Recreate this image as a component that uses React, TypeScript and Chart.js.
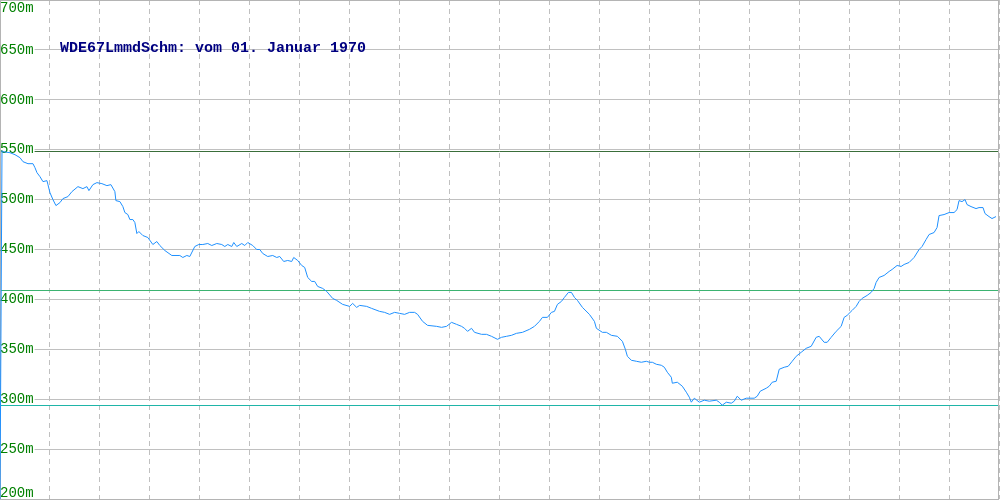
import React, { useEffect, useRef } from "react";
import { Chart, registerables } from "chart.js";

Chart.register(...registerables);

// distance along track (x) and elevation in metres (y)
const distance = [
  0, 2, 3, 10, 15, 20, 23, 28, 33, 35, 37, 40, 43, 47, 48, 50, 53, 56, 60, 63,
  68, 72, 78, 83, 87, 89, 93, 97, 102, 107, 111, 115, 116, 120, 123, 125, 128, 130, 133, 135,
  137, 139, 143, 148, 153, 157, 160, 165, 172, 180, 183, 187, 190, 195, 199, 203, 208, 212, 217, 222,
  225, 228, 232, 234, 237, 242, 245, 248, 253, 257, 260, 263, 268, 273, 277, 280, 284, 288, 292, 294,
  298, 302, 305, 308, 312, 315, 318, 323, 327, 333, 337, 343, 350, 353, 357, 360, 367, 372, 380, 385,
  390, 395, 400, 405, 410, 415, 418, 423, 428, 437, 442, 447, 452, 457, 462, 465, 468, 472, 475, 482,
  487, 492, 498, 502, 507, 512, 517, 523, 530, 535, 540, 543, 548, 552, 555, 558, 562, 565, 569, 572,
  575, 578, 583, 590, 595, 597, 603, 607, 612, 618, 623, 626, 628, 632, 637, 642, 647, 650, 653, 657,
  662, 665, 668, 672, 673, 678, 683, 687, 690, 692, 695, 700, 705, 710, 717, 720, 723, 727, 732, 735,
  738, 742, 747, 755, 758, 761, 767, 770, 773, 777, 780, 785, 789, 793, 797, 802, 807, 812, 817, 820,
  825, 828, 832, 837, 842, 845, 848, 853, 857, 860, 863, 868, 872, 875, 877, 880, 885, 890, 893, 898,
  902, 905, 910, 915, 920, 923, 927, 930, 935, 938, 940, 945, 950, 955, 958, 960, 963, 966, 968, 972,
  977, 980, 984, 986, 990, 993, 997,
];

const elevation = [
  200, 549, 548, 547, 545, 542, 538, 536, 536, 532, 527, 523, 518, 519, 515, 507, 500, 494, 497, 501,
  503, 508, 513, 511, 513, 509, 515, 517, 516, 514, 515, 508, 499, 498, 493, 487, 485, 480, 480, 477,
  466, 468, 464, 462, 455, 458, 454, 449, 444, 444, 442, 444, 443, 453, 455, 455, 456, 454, 456, 455,
  453, 455, 453, 457, 453, 456, 454, 457, 454, 450, 450, 446, 443, 444, 442, 443, 438, 439, 438, 442,
  439, 434, 432, 422, 418, 418, 413, 411, 408, 401, 399, 395, 393, 396, 392, 394, 393, 391, 388, 387,
  385, 387, 386, 385, 387, 387, 385, 378, 374, 373, 372, 373, 377, 375, 373, 371, 368, 371, 367, 365,
  365, 363, 360, 362, 363, 364, 366, 367, 370, 373, 378, 382, 382, 387, 388, 395, 398, 402, 407, 407,
  402, 399, 392, 385, 378, 371, 367, 367, 364, 363, 358, 350, 343, 339, 338, 337, 338, 337, 337, 335,
  334, 332, 327, 322, 316, 317, 313, 307, 302, 297, 301, 297, 299, 298, 299, 297, 294, 297, 296, 298,
  303, 299, 301, 301, 303, 308, 311, 313, 317, 318, 330, 332, 333, 338, 343, 347, 351, 353, 362, 363,
  357, 357, 362, 368, 373, 382, 384, 389, 393, 398, 401, 404, 407, 411, 417, 422, 424, 428, 430, 434,
  433, 435, 437, 442, 450, 453, 460, 465, 467, 472, 484, 485, 487, 487, 490, 499, 498, 500, 495, 493,
  491, 492, 492, 486, 483, 481, 483,
];

const yTickValues = [200, 250, 300, 350, 400, 450, 500, 550, 600, 650, 700];
const yTickLabels = ["200m", "250m", "300m", "350m", "400m", "450m", "500m", "550m", "600m", "650m", "700m"];

const referenceLevels = [549, 409.5, 294];
const referenceColors = ["#3a6e3a", "#3cb371", "#1fb5a8"];

const titleText = "WDE67LmmdSchm: vom 01. Januar 1970";

const overlayPlugin = {
  id: "overlay",
  beforeDatasetsDraw(chart: any) {
    const { ctx, chartArea, scales } = chart;
    const y = scales.y;
    ctx.save();
    ctx.setLineDash([]);
    // reference lines
    referenceLevels.forEach((lvl, i) => {
      const py = Math.round(y.getPixelForValue(lvl)) + 0.5;
      ctx.strokeStyle = referenceColors[i];
      ctx.lineWidth = 1;
      ctx.beginPath();
      ctx.moveTo(chartArea.left, py);
      ctx.lineTo(chartArea.right, py);
      ctx.stroke();
    });
    // frame
    ctx.strokeStyle = "#b4b4b4";
    ctx.lineWidth = 1;
    ctx.strokeRect(chartArea.left + 0.5, chartArea.top + 0.5, chartArea.right - chartArea.left - 1, chartArea.bottom - chartArea.top);
    // y labels
    ctx.font = "14px 'Liberation Mono', 'DejaVu Sans Mono', monospace";
    ctx.textBaseline = "middle";
    ctx.textAlign = "left";
    yTickValues.forEach((v, i) => {
      let py = y.getPixelForValue(v);
      py = Math.min(Math.max(py, chartArea.top + 8), chartArea.bottom - 6);
      const w = ctx.measureText(yTickLabels[i]).width;
      ctx.fillStyle = "#ffffff";
      ctx.fillRect(chartArea.left + 1, py - 5, w, 10);
      ctx.fillStyle = "#008000";
      ctx.fillText(yTickLabels[i], chartArea.left, py);
    });
    ctx.restore();
  },
  afterDraw(chart: any) {
    const { ctx, chartArea } = chart;
    ctx.save();
    ctx.font = "bold 15px 'Liberation Mono', 'DejaVu Sans Mono', monospace";
    ctx.fillStyle = "#000080";
    ctx.textBaseline = "middle";
    ctx.textAlign = "left";
    ctx.fillText(titleText, chartArea.left + 60, chartArea.top + 48);
    ctx.restore();
  },
};

export default function App() {
  const canvasRef = useRef<HTMLCanvasElement | null>(null);

  useEffect(() => {
    document.body.style.margin = "0";
    const canvas = canvasRef.current;
    if (!canvas) return;
    const points = distance.map((d, i) => ({ x: d, y: elevation[i] }));
    const chart = new Chart(canvas, {
      type: "line",
      data: {
        datasets: [
          {
            data: points,
            borderColor: "#1e90ff",
            borderWidth: 1,
            pointRadius: 0,
            tension: 0,
            fill: false,
          },
        ],
      },
      options: {
        responsive: false,
        animation: false,
        devicePixelRatio: 1,
        layout: { padding: { left: 0, top: 0, right: 1, bottom: 1 } },
        plugins: {
          legend: { display: false },
          tooltip: { enabled: false },
          title: { display: false },
        },
        scales: {
          x: {
            type: "linear",
            min: 0,
            max: 1000,
            ticks: { display: false, stepSize: 50 },
            grid: { color: "#c0c0c0", drawTicks: false, lineWidth: 1 },
            border: { display: false, dash: [5, 4] },
          },
          y: {
            type: "linear",
            min: 200,
            max: 700,
            ticks: { display: false, stepSize: 50 },
            grid: { color: "#c0c0c0", drawTicks: false, lineWidth: 1 },
            border: { display: false },
          },
        },
      },
      plugins: [overlayPlugin],
    });
    return () => chart.destroy();
  }, []);

  return (
    <div style={{ width: 1000, height: 500, background: "#ffffff" }}>
      <canvas ref={canvasRef} width={1000} height={500} />
    </div>
  );
}
